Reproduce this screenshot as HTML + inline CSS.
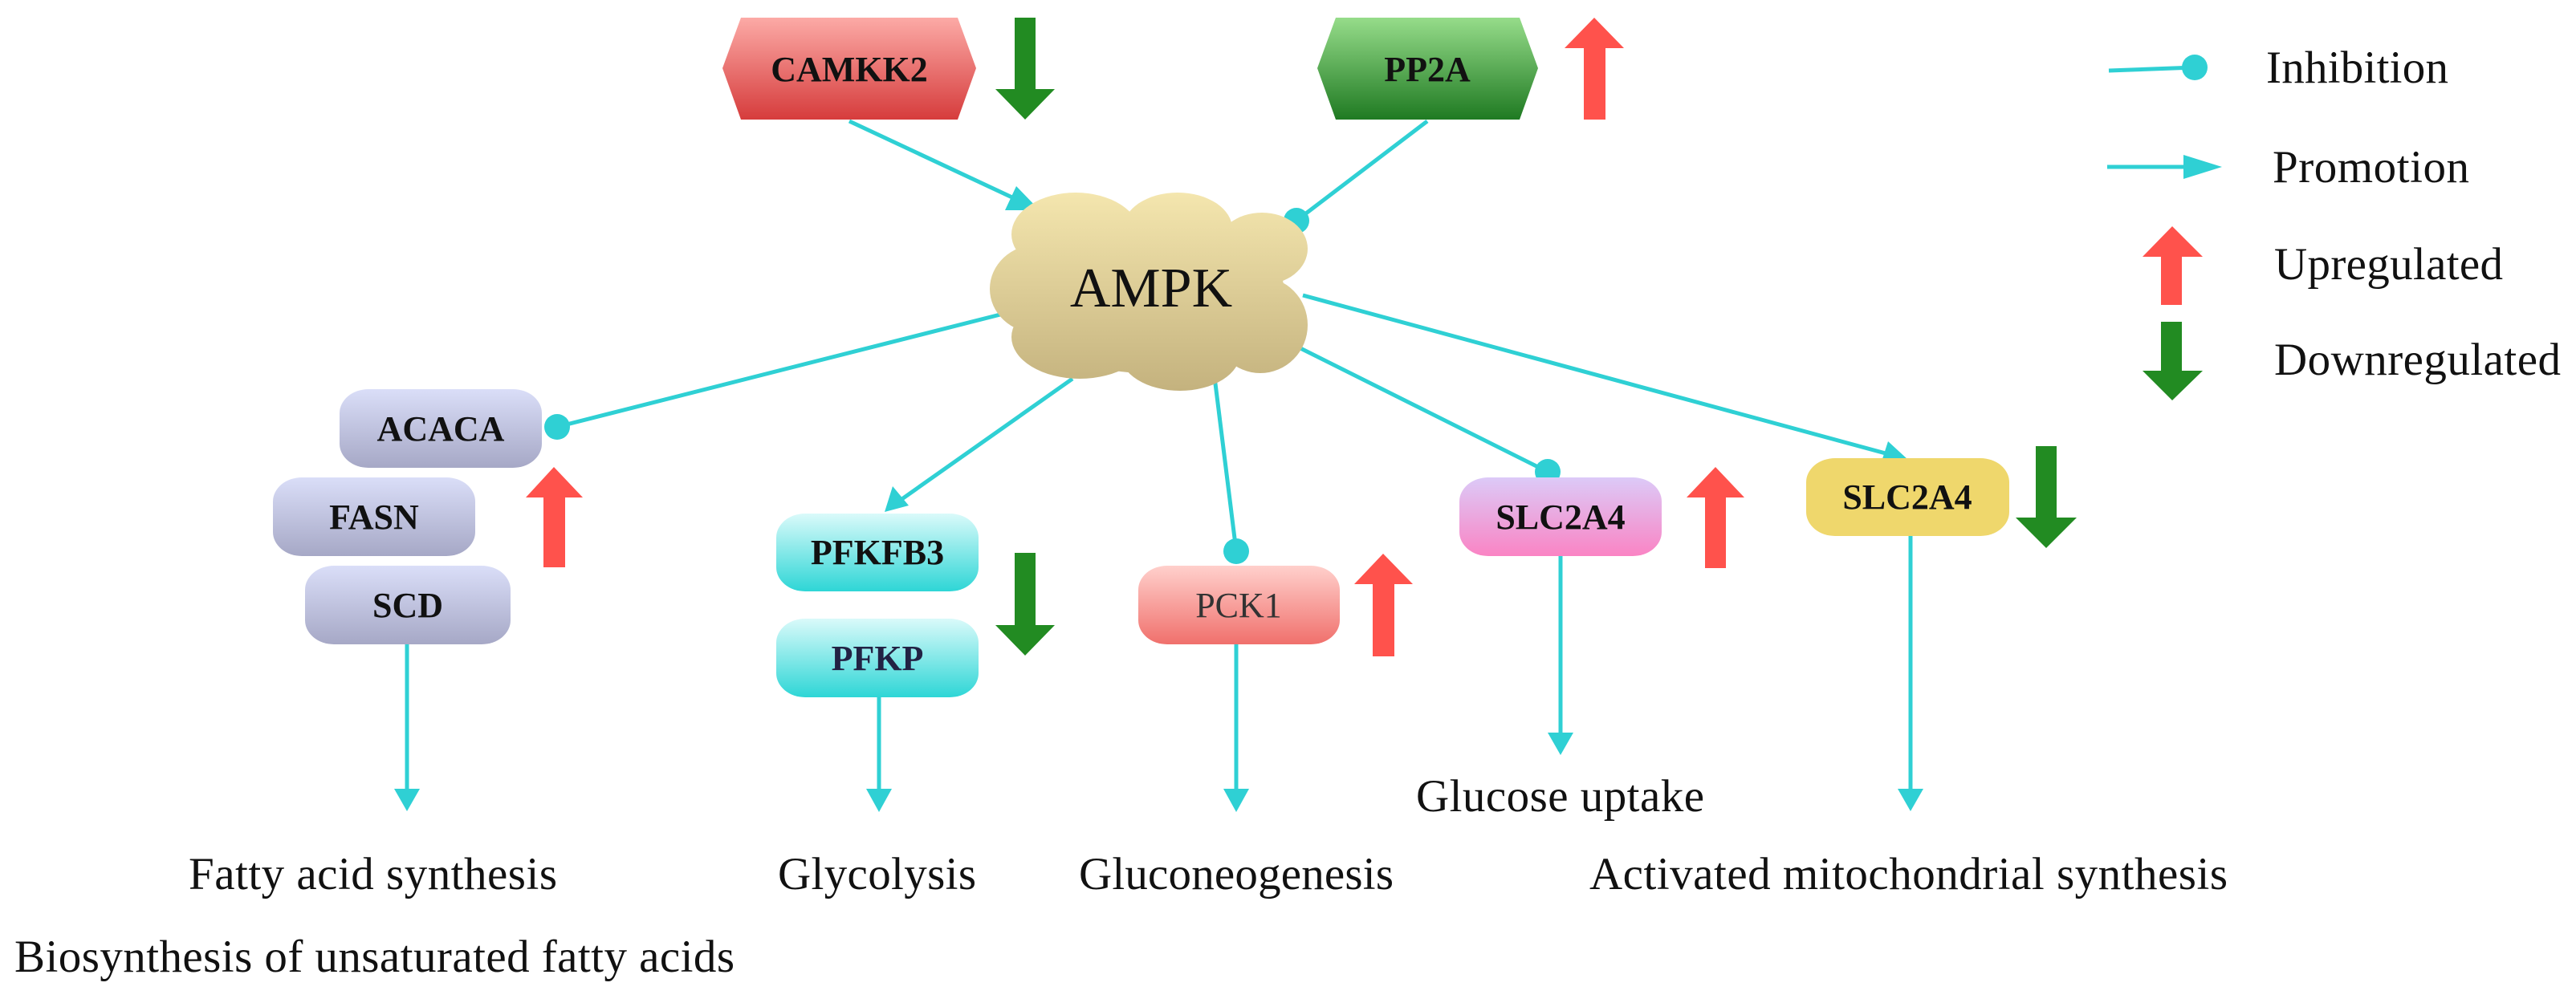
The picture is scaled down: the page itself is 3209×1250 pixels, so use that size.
<!DOCTYPE html>
<html><head><meta charset="utf-8"><style>html,body{margin:0;padding:0;background:#fff}svg{display:block}</style></head>
<body>
<svg width="3209" height="1250" viewBox="0 0 3209 1250" xmlns="http://www.w3.org/2000/svg">
<defs>
<linearGradient id="gRed" x1="0" y1="0" x2="0" y2="1"><stop offset="0" stop-color="#fcaaa6"/><stop offset="1" stop-color="#d63c3c"/></linearGradient>
<linearGradient id="gGreen" x1="0" y1="0" x2="0" y2="1"><stop offset="0" stop-color="#96dc8a"/><stop offset="1" stop-color="#1f7a22"/></linearGradient>
<linearGradient id="gLav" x1="0" y1="0" x2="0" y2="1"><stop offset="0" stop-color="#dadef8"/><stop offset="1" stop-color="#a6a8c6"/></linearGradient>
<linearGradient id="gCyan" x1="0" y1="0" x2="0" y2="1"><stop offset="0" stop-color="#dafafa"/><stop offset="1" stop-color="#2ed6d6"/></linearGradient>
<linearGradient id="gPck" x1="0" y1="0" x2="0" y2="1"><stop offset="0" stop-color="#ffd0cc"/><stop offset="1" stop-color="#f0706c"/></linearGradient>
<linearGradient id="gSlc" x1="0" y1="0" x2="0" y2="1"><stop offset="0" stop-color="#dccaf8"/><stop offset="1" stop-color="#fa84c4"/></linearGradient>
<linearGradient id="gCloud" gradientUnits="userSpaceOnUse" x1="0" y1="240" x2="0" y2="487"><stop offset="0" stop-color="#f4e6ae"/><stop offset="1" stop-color="#c4b27e"/></linearGradient>
</defs>
<g stroke="#2fd0d4" stroke-width="5" fill="none">
<line x1="1058" y1="151" x2="1280" y2="255"/>
<line x1="1778" y1="151" x2="1615" y2="275"/>
<line x1="1250" y1="391" x2="694" y2="532"/>
<line x1="1336" y1="472" x2="1115" y2="628"/>
<line x1="1513" y1="470" x2="1540" y2="687"/>
<line x1="1620" y1="434" x2="1928" y2="588"/>
<line x1="1623" y1="368" x2="2360" y2="568"/>
<line x1="507" y1="803" x2="507" y2="985"/>
<line x1="1095" y1="869" x2="1095" y2="985"/>
<line x1="1540" y1="803" x2="1540" y2="985"/>
<line x1="1944" y1="693" x2="1944" y2="915"/>
<line x1="2380" y1="668" x2="2380" y2="985"/>
<line x1="2627" y1="88" x2="2734" y2="84"/>
<line x1="2625" y1="208" x2="2730" y2="208"/>
</g>
<g fill="#2fd0d4">
<polygon points="1295,262 1252,262 1266,232"/>
<polygon points="1102,638 1112,606 1132,630"/>
<polygon points="2377,573 2343,578 2352,550"/>
<polygon points="491,983 523,983 507,1011"/>
<polygon points="1079,983 1111,983 1095,1012"/>
<polygon points="1524,983 1556,983 1540,1012"/>
<polygon points="1928,913 1960,913 1944,941"/>
<polygon points="2364,983 2396,983 2380,1011"/>
<polygon points="2720,193 2768,208 2720,223"/>
<circle cx="1615" cy="275" r="16"/>
<circle cx="694" cy="532" r="16"/>
<circle cx="1540" cy="687" r="16"/>
<circle cx="1928" cy="588" r="16"/>
<circle cx="2734" cy="84" r="16"/>
</g>
<g fill="url(#gCloud)">
<ellipse cx="1430" cy="365" rx="170" ry="100"/>
<ellipse cx="1340" cy="292" rx="80" ry="52"/>
<ellipse cx="1467" cy="285" rx="68" ry="45"/>
<ellipse cx="1572" cy="310" rx="57" ry="45"/>
<ellipse cx="1292" cy="360" rx="59" ry="55"/>
<ellipse cx="1345" cy="420" rx="85" ry="52"/>
<ellipse cx="1470" cy="440" rx="75" ry="47"/>
<ellipse cx="1570" cy="405" rx="59" ry="60"/>
</g>
<polygon points="900,85 923,22 1193,22 1216,85 1193,149 923,149" fill="url(#gRed)"/>
<polygon points="1641,85 1664,22 1893,22 1916,85 1893,149 1664,149" fill="url(#gGreen)"/>
<rect x="423" y="485" width="252" height="98" rx="36" ry="30" fill="url(#gLav)"/>
<rect x="340" y="595" width="252" height="98" rx="36" ry="30" fill="url(#gLav)"/>
<rect x="380" y="705" width="256" height="98" rx="36" ry="30" fill="url(#gLav)"/>
<rect x="967" y="640" width="252" height="97" rx="36" ry="30" fill="url(#gCyan)"/>
<rect x="967" y="771" width="252" height="98" rx="36" ry="30" fill="url(#gCyan)"/>
<rect x="1418" y="705" width="251" height="98" rx="36" ry="30" fill="url(#gPck)"/>
<rect x="1818" y="595" width="252" height="98" rx="36" ry="30" fill="url(#gSlc)"/>
<rect x="2250" y="571" width="253" height="97" rx="36" ry="30" fill="#efd76c"/>
<g fill="#ff524c">
<polygon points="1986,22 2023,60 2000,60 2000,149 1973,149 1973,60 1949,60"/>
<polygon points="690,582 726,620 704,620 704,707 677,707 677,620 655,620"/>
<polygon points="1723,690 1760,728 1737,728 1737,818 1710,818 1710,728 1687,728"/>
<polygon points="2137,582 2173,620 2150,620 2150,708 2124,708 2124,620 2101,620"/>
<polygon points="2706,282 2744,320 2718,320 2718,380 2692,380 2692,320 2669,320"/>
</g>
<g fill="#228b22">
<polygon points="1277,149 1314,111 1290,111 1290,22 1264,22 1264,111 1240,111"/>
<polygon points="1277,817 1314,779 1290,779 1290,689 1264,689 1264,779 1240,779"/>
<polygon points="2549,683 2587,645 2562,645 2562,556 2536,556 2536,645 2511,645"/>
<polygon points="2706,499 2744,462 2718,462 2718,401 2692,401 2692,462 2669,462"/>
</g>
<g font-family="Liberation Serif, serif" font-weight="bold" font-size="44" text-anchor="middle" fill="#111">
<text x="1058" y="101">CAMKK2</text>
<text x="1778" y="101">PP2A</text>
<text x="549" y="549">ACACA</text>
<text x="466" y="659">FASN</text>
<text x="508" y="769">SCD</text>
<text x="1093" y="703">PFKFB3</text>
<text x="1093" y="835" fill="#224">PFKP</text>
<text x="1543" y="769" font-weight="normal" fill="#333">PCK1</text>
<text x="1944" y="659">SLC2A4</text>
<text x="2376" y="634">SLC2A4</text>
</g>
<g font-family="Liberation Serif, serif" font-size="57" fill="#111">
<text x="1434" y="382" font-size="70" text-anchor="middle">AMPK</text>
<text x="235" y="1108" textLength="459">Fatty acid synthesis</text>
<text x="18" y="1211" textLength="897">Biosynthesis of unsaturated fatty acids</text>
<text x="969" y="1108" textLength="247">Glycolysis</text>
<text x="1344" y="1108" textLength="392">Gluconeogenesis</text>
<text x="1764" y="1011" textLength="359">Glucose uptake</text>
<text x="1980" y="1108" textLength="795">Activated mitochondrial synthesis</text>
<text x="2823" y="103" textLength="227">Inhibition</text>
<text x="2831" y="227" textLength="245">Promotion</text>
<text x="2833" y="348" textLength="285">Upregulated</text>
<text x="2833" y="467" textLength="357">Downregulated</text>
</g>
</svg>
</body></html>
